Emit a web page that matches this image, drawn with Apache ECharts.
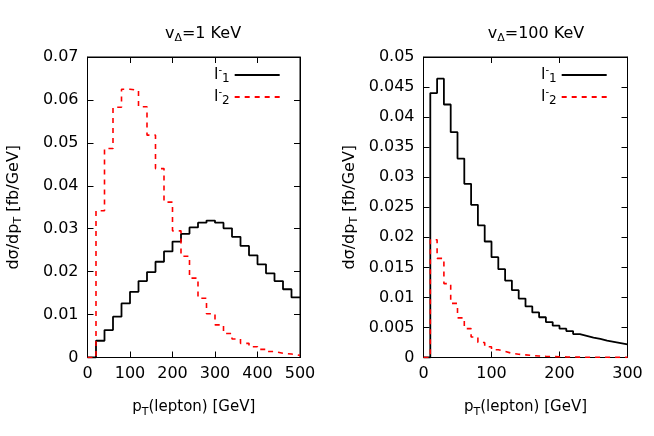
<!DOCTYPE html>
<html><head><meta charset="utf-8">
<script src="https://cdn.jsdelivr.net/npm/echarts@6/dist/echarts.min.js"></script>
<style>html,body{margin:0;padding:0;background:#fff}#c{width:654px;height:436px}</style>
</head><body><div id="c"></div>
<script>
// Left panel (v_Delta = 1 KeV): bins of 20 GeV from 0 to 500
const leftBinWidth = 20;
const leftL1 = [0,0.0039,0.0064,0.0095,0.0126,0.0153,0.0178,0.0199,0.0223,0.0247,0.0270,0.0288,0.0303,0.0314,0.0319,0.0314,0.0301,0.0281,0.0260,0.0238,0.0217,0.0196,0.0178,0.0159,0.0140];
const leftL2 = [0,0.0342,0.0487,0.0583,0.0625,0.0622,0.0584,0.0518,0.0440,0.0362,0.0295,0.0236,0.0185,0.0138,0.0102,0.0076,0.0056,0.0043,0.0033,0.0025,0.0019,0.0014,0.0010,0.0008,0.0005];
// Right panel (v_Delta = 100 KeV): bins of 10 GeV from 0 to 300
const rightBinWidth = 10;
const rightL1 = [0,0.0440,0.0464,0.0421,0.0375,0.0331,0.0289,0.0254,0.0220,0.0193,0.0167,0.0147,0.0128,0.0112,0.0098,0.0085,0.0075,0.0067,0.0059,0.0053,0.0048,0.0044,0.0039,0.0036,0.0033,0.0031,0.0028,0.0026,0.0024,0.0022];
const rightL2 = [0,0.0196,0.0165,0.0123,0.0090,0.0066,0.0048,0.0034,0.0025,0.0018,0.0013,0.0010,0.0007,0.00055,0.00044,0.00033,0.00026,0.0002,0.00016,0.00013,0.0001,0.00008,0.00006,0.00005,0.00004,0.00003,0.00003,0.00002,0.00002,0.00002];
const titles = ['1 KeV', '100 KeV'];
const seriesNames = ['l1', 'l2'];

function toSteps(vals, w) {
  const pts = vals.map((v, i) => [i * w, v]);
  pts.push([vals.length * w, vals[vals.length - 1]]);
  return pts;
}

const FONT = 'DejaVu Sans';
const subRich = {
  a: {fontSize: 16, fontFamily: FONT, color: '#000', fontWeight: 'normal'},
  s: {fontSize: 11, fontFamily: FONT, color: '#000', fontWeight: 'normal', verticalAlign: 'bottom', padding: [9, 0, 0, 0]}
};
const xNameRich = {
  a: {fontSize: 15, fontFamily: FONT, color: '#000', fontWeight: 'normal'},
  s: {fontSize: 11, fontFamily: FONT, color: '#000', fontWeight: 'normal', verticalAlign: 'bottom', padding: [9, 0, 0, 0]}
};
const legendRich = {
  a: {fontSize: 16, fontFamily: FONT, color: '#000', lineHeight: 20},
  p: {fontSize: 10, fontFamily: FONT, color: '#000', verticalAlign: 'top', padding: [0, 0, 10, 0]},
  s: {fontSize: 12, fontFamily: FONT, color: '#000', verticalAlign: 'bottom', padding: [8, 0, 0, 0]}
};

function xAx(gi, max, bottom) {
  return {
    type: 'value', gridIndex: gi, min: 0, max: max, interval: 100,
    position: bottom ? 'bottom' : 'top',
    axisLine: {show: true, onZero: false, lineStyle: {color: '#000', width: 1}},
    axisTick: {show: true, inside: true, length: 6, lineStyle: {color: '#000'}},
    axisLabel: {show: bottom, color: '#000', fontFamily: FONT, fontSize: 16, margin: 8},
    splitLine: {show: false},
    name: bottom ? '{a|p}{s|T}{a|(lepton) [GeV]}' : '',
    nameLocation: 'middle', nameGap: 40,
    nameTextStyle: {rich: xNameRich}
  };
}
function yAx(gi, max, interval, left) {
  return {
    type: 'value', gridIndex: gi, min: 0, max: max, interval: interval,
    position: left ? 'left' : 'right',
    axisLine: {show: true, onZero: false, lineStyle: {color: '#000', width: 1}},
    axisTick: {show: true, inside: true, length: 6, lineStyle: {color: '#000'}},
    axisLabel: {show: left, color: '#000', fontFamily: FONT, fontSize: 16, margin: 9,
      formatter: v => v === 0 ? '0' : String(+v.toFixed(4))},
    splitLine: {show: false},
    name: left ? '{a|dσ/dp}{s|T}{a| [fb/GeV]}' : '',
    nameLocation: 'middle', nameGap: 64, nameRotate: 90,
    nameTextStyle: {rich: subRich}
  };
}
function ser(name, data, xi, yi, dashed) {
  return {
    name: name, type: 'line', step: 'end', xAxisIndex: xi, yAxisIndex: yi,
    data: data, symbol: 'none', silent: true,
    lineStyle: dashed ? {color: '#ff0000', width: 1.6, type: [5, 5]} : {color: '#000', width: 1.8},
    itemStyle: {color: dashed ? '#ff0000' : '#000'}
  };
}
const legendFmt = n => n === 'l1' ? '{a|l}{p|-}{s|1}' : '{a|l}{p|-}{s|2}';
function legendCfg(left) {
  return {
    data: seriesNames, orient: 'vertical', left: left, top: 60, align: 'right', itemWidth: 45, itemHeight: 12,
    itemGap: 2, formatter: legendFmt, textStyle: {rich: legendRich}, selectedMode: false,
    itemStyle: {opacity: 0, borderWidth: 0}
  };
}

const option = {
  animation: false,
  backgroundColor: '#fff',
  title: titles.map((t, i) => ({
    text: '{a|v}{s|Δ}{a|=' + t + '}',
    left: i === 0 ? 198 : 531, top: 19, textAlign: 'center',
    textStyle: {rich: subRich, fontWeight: 'normal'}
  })),
  grid: [
    {left: 87.5, top: 57, width: 212.5, height: 300.5, show: true, borderColor: '#000', borderWidth: 1},
    {left: 423.5, top: 57, width: 204, height: 300.5, show: true, borderColor: '#000', borderWidth: 1}
  ],
  legend: [legendCfg(209), legendCfg(536)],
  xAxis: [xAx(0, 500, true), xAx(0, 500, false), xAx(1, 300, true), xAx(1, 300, false)],
  yAxis: [yAx(0, 0.07, 0.01, true), yAx(0, 0.07, 0.01, false), yAx(1, 0.05, 0.005, true), yAx(1, 0.05, 0.005, false)],
  series: [
    ser('l1', toSteps(leftL1, leftBinWidth), 0, 0, false),
    ser('l2', toSteps(leftL2, leftBinWidth), 0, 0, true),
    ser('l1', toSteps(rightL1, rightBinWidth), 2, 2, false),
    ser('l2', toSteps(rightL2, rightBinWidth), 2, 2, true)
  ]
};
const chart = echarts.init(document.getElementById('c'), null, {renderer: 'canvas'});
chart.setOption(option);
</script></body></html>
